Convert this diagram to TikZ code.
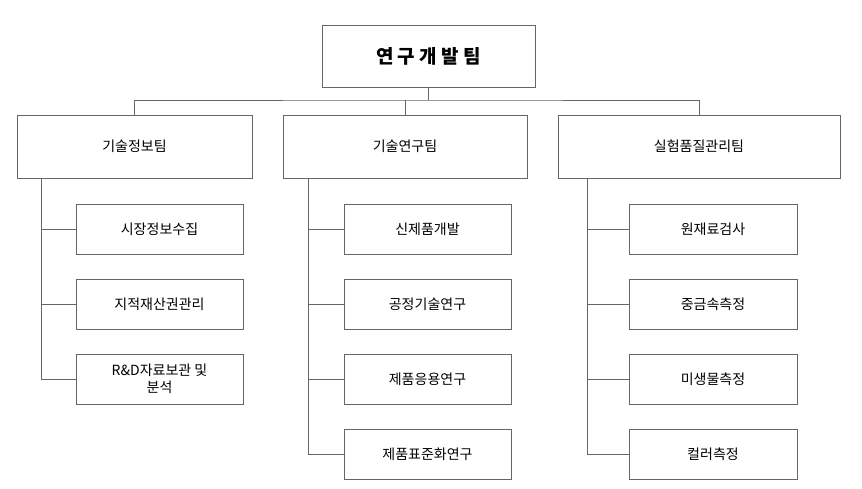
\documentclass[tikz,border=0pt]{standalone}
\usepackage{fontspec}
\setmainfont{Noto Sans CJK KR}
\begin{document}
\begin{tikzpicture}[x=1pt,y=-1pt,
  bx/.style={draw=gray!80!black,line width=0.8pt,fill=white,inner sep=0pt,font=\fontsize{14}{17}\selectfont,align=center},
  ln/.style={draw=gray!80!black,line width=0.8pt}]
\useasboundingbox (0,0) rectangle (862,489);
\node[bx,minimum width=213pt,minimum height=62pt,font=\fontsize{19}{22}\selectfont\bfseries] (top) at (428.5,56) {연 구 개 발 팀};
\node[bx,minimum width=235pt,minimum height=63pt] (t1) at (134.5,146.5) {기술정보팀};
\node[bx,minimum width=244pt,minimum height=63pt] (t2) at (405,146.5) {기술연구팀};
\node[bx,minimum width=282pt,minimum height=63pt] (t3) at (699,146.5) {실험품질관리팀};
\coordinate (h) at (428.5,100);
\draw[ln] (top.south) -- (h);
\draw[ln] (t1.north) |- (h) -| (t3.north);
\draw[ln] (t2.north) -- (405,100);
\foreach \n/\t/\y in {a1/시장정보수집/229,a2/지적재산권관리/304,a3/{R\&D자료보관 및\\분석}/379}
  \node[bx,minimum width=167pt,minimum height=50pt] (\n) at (159.5,\y) {\t};
\foreach \n/\t/\y in {b1/신제품개발/229,b2/공정기술연구/304,b3/제품응용연구/379,b4/제품표준화연구/454}
  \node[bx,minimum width=167pt,minimum height=50pt] (\n) at (427.5,\y) {\t};
\foreach \n/\t/\y in {c1/원재료검사/229,c2/중금속측정/304,c3/미생물측정/379,c4/컬러측정/454}
  \node[bx,minimum width=168pt,minimum height=50pt] (\n) at (713,\y) {\t};
\coordinate (v1) at (41,178); \coordinate (v2) at (308,178); \coordinate (v3) at (587,178);
\draw[ln] (v1) |- (a3.west);
\draw[ln] (v1 |- a1) -- (a1.west); \draw[ln] (v1 |- a2) -- (a2.west);
\draw[ln] (v2) |- (b4.west);
\foreach \n in {b1,b2,b3} \draw[ln] (v2 |- \n) -- (\n.west);
\draw[ln] (v3) |- (c4.west);
\foreach \n in {c1,c2,c3} \draw[ln] (v3 |- \n) -- (\n.west);
\end{tikzpicture}
\end{document}
